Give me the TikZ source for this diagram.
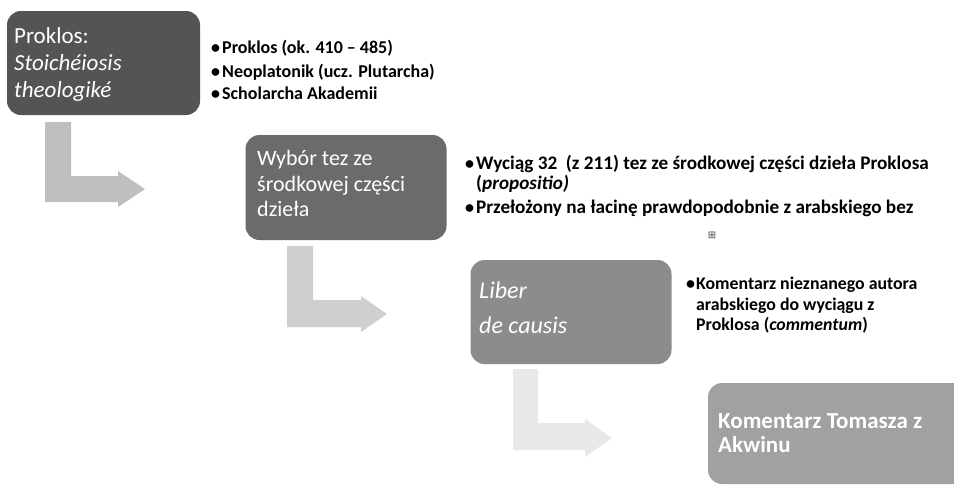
\documentclass[tikz,border=0pt]{standalone}
\usepackage{fontspec}
\setmainfont{Carlito}
\newfontfamily\symfont{DejaVu Sans}
\begin{document}
\begin{tikzpicture}[x=1pt,y=-1pt,
  stagebox/.style={draw=none,rounded corners=14pt,inner sep=0pt},
  boxtxt/.style={anchor=base west,inner sep=0pt,text=white,font=\fontsize{23}{27}\selectfont},
  boxtxtm/.style={anchor=base west,inner sep=0pt,text=white,font=\fontsize{22}{26}\selectfont},
  boxtxtl/.style={anchor=base west,inner sep=0pt,text=white,font=\fontsize{24}{27}\selectfont\itshape},
  boxtxtb/.style={anchor=base west,inner sep=0pt,text=white,font=\fontsize{23}{24}\selectfont\bfseries},
  bul/.style={anchor=base west,inner sep=0pt,font=\fontsize{18}{22}\selectfont\bfseries},
  bultxt/.style={anchor=base west,inner sep=0pt,font=\fontsize{18}{22}\selectfont\bfseries},
  bultxtb/.style={anchor=base west,inner sep=0pt,font=\fontsize{19.2}{22}\selectfont\bfseries},
  bultxtc/.style={anchor=base west,inner sep=0pt,font=\fontsize{17.8}{20}\selectfont\bfseries},
]
\useasboundingbox (0,0) rectangle (954,485);
\fill[white] (0,0) rectangle (954,485);

% arrows
\fill[black!25] (45,122) -- (71,122) -- (71,176) -- (118,176) -- (118,171) -- (145,189) -- (118,207) -- (118,202) -- (45,202) -- cycle;
\fill[black!19] (287,246) -- (313,246) -- (313,300) -- (361,300) -- (361,296) -- (387,314) -- (361,332) -- (361,327) -- (287,327) -- cycle;
\fill[black!9] (513,369) -- (538,369) -- (538,423) -- (585,423) -- (585,419) -- (612,438) -- (585,457) -- (585,450) -- (513,450) -- cycle;

% boxes
\node[stagebox,fill=black!67,minimum width=193pt,minimum height=104pt] (b1) at (103.5,63) {};
\node[stagebox,fill=black!58,minimum width=201pt,minimum height=105pt] (b2) at (346,187.5) {};
\node[stagebox,fill=black!45,minimum width=201pt,minimum height=104pt] (b3) at (571,312) {};
\node[stagebox,fill=black!37,minimum width=267pt,minimum height=101pt] (b4) at (841.5,433.5) {};

% box texts
\node[boxtxt] (t1a) at (14,43) {Proklos:};
\node[boxtxt] (t1b) at (14,70) {\itshape Stoichéiosis};
\node[boxtxt] (t1c) at (14,97) {\itshape theologiké};

\node[boxtxtm] (t2a) at (257,165) {Wybór tez ze};
\node[boxtxtm] (t2b) at (257,191) {środkowej części};
\node[boxtxtm] (t2c) at (257,216) {dzieła};

\node[boxtxtl] (t3a) at (479,298) {Liber};
\node[boxtxtl] (t3b) at (479,333) {de causis};

\node[boxtxtb] (t4a) at (718,428) {Komentarz Tomasza z};
\node[boxtxtb] (t4b) at (718,452) {Akwinu};

% bullet list 1
\node[bul] (d1a) at (211,53) {•};
\node[bultxt] (l1a) at (222,53) {Proklos (ok. 410 – 485)};
\node[bul] (d1b) at (211,77) {•};
\node[bultxt] (l1b) at (222,77) {Neoplatonik (ucz. Plutarcha)};
\node[bul] (d1c) at (211,99) {•};
\node[bultxt] (l1c) at (222,99) {Scholarcha Akademii};

% bullet list 2
\node[bul] (d2a) at (465,169) {•};
\node[bultxtb] (l2a) at (476,169) {Wyciąg 32\ \ (z 211) tez ze środkowej części dzieła Proklosa};
\node[bultxtb] (l2b) at (476,189) {(\textit{propositio)}};
\node[bul] (d2c) at (465,213) {•};
\node[bultxtb] (l2c) at (476,213) {Przełożony na łacinę prawdopodobnie z arabskiego bez};
\node[inner sep=0pt,text=black!75,font=\symfont\fontsize{10}{10}\selectfont] (plus) at (712,235) {⊞};

% bullet list 3
\node[bul] (d3a) at (686,289) {•};
\node[bultxtc] (l3a) at (696,289) {Komentarz nieznanego autora};
\node[bultxtc] (l3b) at (696,310) {arabskiego do wyciągu z};
\node[bultxtc] (l3c) at (696,330) {Proklosa (\textit{commentum})};
\end{tikzpicture}
\end{document}
